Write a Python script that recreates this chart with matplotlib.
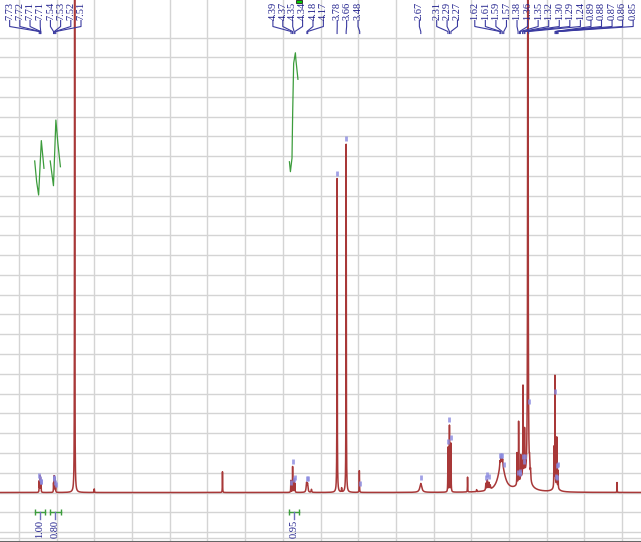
import matplotlib
matplotlib.use("Agg")
import matplotlib.pyplot as plt
from matplotlib.patches import Rectangle
import numpy as np

# picked lines: shift / ppm, height / grid steps, half width / ppm
peak_ppm = [7.730, 7.722, 7.713, 7.706, 7.540, 7.532, 7.523, 7.513, 7.260, 7.000,
            5.300, 4.393, 4.370, 4.352, 4.340, 4.185, 4.172, 4.120, 3.780, 3.720,
            3.660, 3.485, 2.670, 2.310, 2.290, 2.270, 2.050, 1.930, 1.807, 1.788,
            1.768, 1.750, 1.600, 1.620, 1.605, 1.585, 1.394, 1.373, 1.344, 1.315,
            1.294, 1.250, 1.300, 1.228, 1.215, 0.904, 0.891, 0.867, 0.850, 0.880,
            0.068]
peak_height = [0.55, 0.80, 0.70, 0.45, 0.45, 0.80, 0.70, 0.40, 60.0, 0.18,
               1.05, 0.60, 1.30, 0.65, 0.45, 0.45, 0.40, 0.15, 15.9, 0.20,
               17.6, 1.10, 0.45, 2.25, 3.35, 2.45, 0.75, 0.10, 0.35, 0.50,
               0.35, 0.20, 1.45, 0.30, 0.30, 0.30, 1.60, 3.10, 1.20, 4.50,
               2.20, 45.0, 0.80, 0.70, 0.50, 2.00, 5.60, 2.50, 0.90, 0.25,
               0.50]
peak_hw = [0.0018, 0.0018, 0.0018, 0.0018, 0.0018, 0.0018, 0.0018, 0.0018, 0.0015, 0.002,
           0.0018, 0.002, 0.002, 0.002, 0.002, 0.006, 0.006, 0.004, 0.0022, 0.002,
           0.0022, 0.002, 0.015, 0.002, 0.002, 0.002, 0.0018, 0.002, 0.004, 0.004,
           0.004, 0.004, 0.05, 0.004, 0.004, 0.004, 0.002, 0.002, 0.002, 0.002,
           0.002, 0.003, 0.07, 0.004, 0.004, 0.002, 0.002, 0.002, 0.002, 0.04,
           0.0015]

# peak labels along the top
label_ppm = [7.73, 7.72, 7.71, 7.71, 7.54, 7.53, 7.52, 7.51,
             4.39, 4.37, 4.35, 4.34, 4.18, 4.17, 3.78, 3.66, 3.48,
             2.67, 2.31, 2.29, 2.27,
             1.62, 1.61, 1.59, 1.57, 1.38, 1.36, 1.35, 1.32, 1.30, 1.29, 1.24,
             0.89, 0.88, 0.87, 0.86, 0.85]
extra_picks = [1.807, 1.788, 1.768]

# integrals
int_from = [7.790, 7.593, 4.421]
int_to = [7.659, 7.440, 4.290]
int_text = ["1.00", "0.80", "0.95"]
int_curve_ppm = [[7.790, 7.764, 7.738, 7.702, 7.667],
                 [7.584, 7.541, 7.509, 7.483, 7.449],
                 [4.412, 4.399, 4.378, 4.369, 4.356, 4.333, 4.326, 4.299]]
int_curve_val = [[16.76, 15.71, 15.04, 17.79, 16.39],
                 [16.76, 15.51, 18.83, 17.67, 16.47],
                 [16.72, 16.22, 16.90, 19.19, 21.70, 22.23, 21.87, 20.89]]

# screen geometry of the reference (pixels)
X8, PPX = 17.3, 76.2          # pixel of 8 ppm, pixels per ppm
BASE, STEP = 492.5, 19.78     # baseline pixel, grid step in pixels


def ppm_at(px):
    return 8 - (px - X8) / PPX


def yu(py):
    return (BASE - py) / STEP


# where the label texts sit (pixel columns), as the program stacked them
label_cols = ([8 + 10.3 * i for i in range(8)]
              + [274, 284, 294, 304, 314.5, 325, 339, 348.5, 360]
              + [422, 439.5, 450, 460.5]
              + [478 + 10.67 * i for i in range(16)])

ppm = np.linspace(8.4, -0.4, 40000)
spec = np.zeros_like(ppm)
for c, h, w in zip(peak_ppm, peak_height, peak_hw):
    spec += h * w**2 / ((ppm - c)**2 + w**2)

fig = plt.figure(figsize=(6.41, 5.42), dpi=100)
ax = fig.add_axes([0, 1 / 542, 1, 541 / 542])
ax.set_xlim(ppm_at(0), ppm_at(641))
ax.set_ylim(yu(541), yu(0))

ax.set_xticks(np.arange(0, 8.01, 0.5))
ax.set_xticks(np.arange(-0.25, 8.3, 0.25), minor=True)
ax.set_yticks(np.arange(-2, 24))
ax.grid(True, which="major", color="#d4d4d4", lw=1.0, zorder=0)
ax.tick_params(axis="y", length=0, labelleft=False)
ax.tick_params(axis="x", which="both", direction="out", length=4, color="#555555",
               labelbottom=False)
for s in ["left", "right", "top"]:
    ax.spines[s].set_visible(False)
ax.spines["bottom"].set_color("#666666")
ax.axhline(yu(537.7), color="#d4d4d4", lw=1.0, zorder=0)

ax.plot(ppm, spec, color="#a83838", lw=1.1, zorder=3)

# peak pick markers
mk = label_ppm + extra_picks
tops = np.interp(mk, ppm[::-1], spec[::-1])
ax.vlines(mk, tops + 3 / STEP, tops + 8 / STEP, color="#8a8ae0", lw=2.0, alpha=0.8, zorder=4)

# peak labels
navy = "#1f1f8c"
for p, col in zip(label_ppm, label_cols):
    xl = ppm_at(col)
    ax.plot([xl, xl, p, p], [yu(20.5), yu(26.5), yu(31.5), yu(33.5)],
            color="#3a3aa0", lw=0.8, zorder=5)
    ax.text(xl, yu(19.5), f"{p:.2f}", rotation=90, ha="center", va="bottom",
            color=navy, fontsize=7.5, family="Liberation Serif", zorder=6)

# integrals
green = "#3c9c3c"
for a, b, t, cx, cy in zip(int_from, int_to, int_text, int_curve_ppm, int_curve_val):
    yb = yu(511.7)
    ax.plot([a, b], [yb, yb], color=green, lw=1.0, zorder=5)
    ax.vlines([a, b], yu(514.5), yu(509), color=green, lw=1.0, zorder=5)
    m = (a + b) / 2
    ax.plot([m, m], [yb, yu(519)], color="#7070c0", lw=1.0, zorder=5)
    ax.text(m, yu(519.5), t, rotation=90, ha="center", va="top", color=navy,
            fontsize=7.5, family="Liberation Serif", zorder=6)
    ax.plot(cx, cy, color=green, lw=0.9, zorder=5)

# small green handle at the top
ax.add_patch(Rectangle((ppm_at(297.3), yu(3)), ppm_at(303.3) - ppm_at(297.3), yu(0) - yu(3),
                       facecolor="#00cc00", edgecolor="#222222", lw=0.6, zorder=7,
                       clip_on=False))

fig.savefig("out.png", dpi=100)
